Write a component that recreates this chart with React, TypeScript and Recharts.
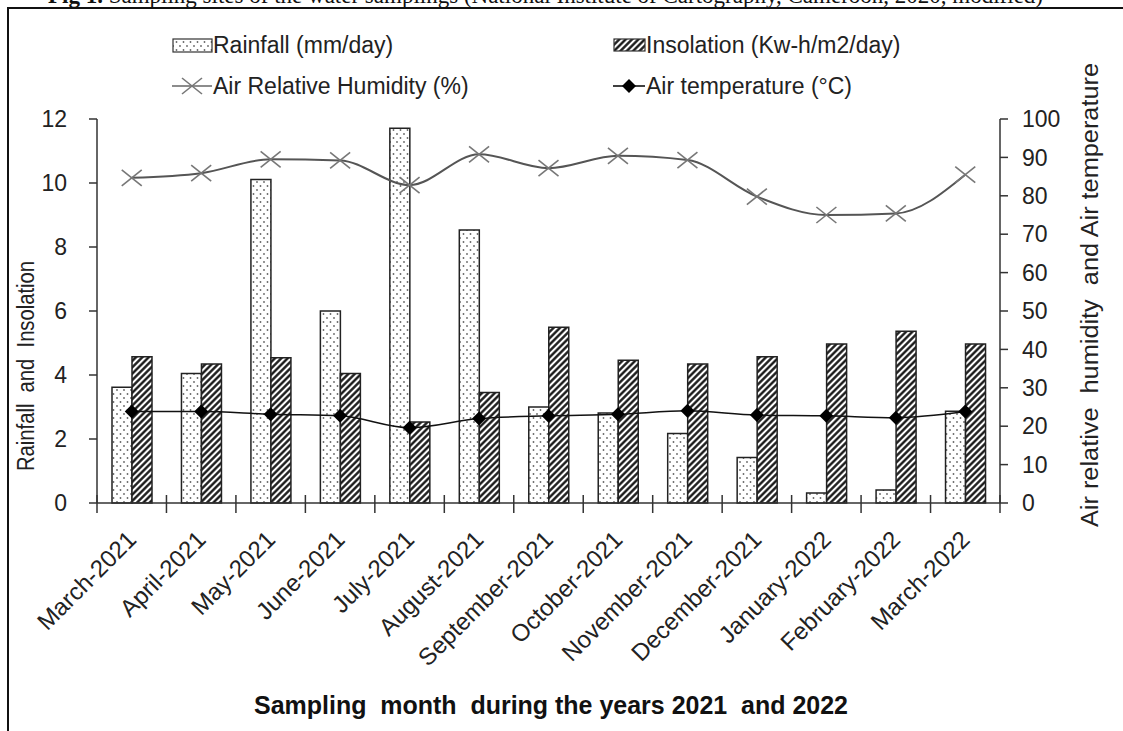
import React from 'react';
import { ComposedChart, Bar, Line, XAxis, YAxis } from 'recharts';

const months = [
  'March-2021', 'April-2021', 'May-2021', 'June-2021', 'July-2021', 'August-2021',
  'September-2021', 'October-2021', 'November-2021', 'December-2021', 'January-2022',
  'February-2022', 'March-2022',
];
const rainfall = [3.62, 4.05, 10.11, 6.0, 11.71, 8.53, 3.0, 2.81, 2.17, 1.42, 0.31, 0.41, 2.87];
const insolation = [4.57, 4.34, 4.54, 4.05, 2.53, 3.45, 5.49, 4.46, 4.34, 4.57, 4.97, 5.37, 4.97];
const humidity = [84.7, 85.9, 89.5, 89.2, 82.8, 90.8, 87.2, 90.4, 89.3, 79.8, 75.0, 75.4, 85.5];
const temperature = [23.8, 23.8, 23.1, 22.7, 19.6, 22.0, 22.7, 23.1, 24.0, 22.9, 22.7, 22.2, 23.8];
const leftTicks = [0, 2, 4, 6, 8, 10, 12];
const rightTicks = [0, 10, 20, 30, 40, 50, 60, 70, 80, 90, 100];

const data = months.map((month, i) => ({
  month,
  rainfall: rainfall[i],
  insolation: insolation[i],
  humidity: humidity[i],
  temperature: temperature[i],
}));

const W = 1123;
const H = 731;
const PLOT_LEFT = 97;
const PLOT_RIGHT = 1000;
const PLOT_TOP = 119;
const PLOT_BOTTOM = 503;
const AXIS_W = 60;
const X_AXIS_H = 120;
const BAND = (PLOT_RIGHT - PLOT_LEFT) / months.length;

const SANS = "'Liberation Sans', Arial, sans-serif";
const INK = '#222';

const MonthTick = (props: any) => {
  const { x, y, payload, index } = props;
  const half = BAND / 2;
  const ax = x + 6;
  const ay = y + 38;
  return (
    <g>
      <line x1={x - half} x2={x - half} y1={y - 8} y2={y + 10} stroke="#333" strokeWidth={1.5} />
      {index === months.length - 1 && (
        <line x1={x + half} x2={x + half} y1={y - 8} y2={y + 10} stroke="#333" strokeWidth={1.5} />
      )}
      <text
        x={ax}
        y={ay}
        transform={`rotate(-45 ${ax} ${ay})`}
        textAnchor="end"
        fontSize={24}
        fontFamily={SANS}
        fill={INK}
      >
        {payload.value}
      </text>
    </g>
  );
};

const CrossDot = (props: any) => {
  const { cx, cy, index } = props;
  if (cx == null || cy == null) return <g key={`h-${index}`} />;
  return (
    <g key={`h-${index}`}>
      <line x1={cx - 10} y1={cy - 8} x2={cx + 10} y2={cy + 8} stroke="#777" strokeWidth={1.6} />
      <line x1={cx - 10} y1={cy + 8} x2={cx + 10} y2={cy - 8} stroke="#777" strokeWidth={1.6} />
    </g>
  );
};

const DiamondDot = (props: any) => {
  const { cx, cy, index } = props;
  if (cx == null || cy == null) return <g key={`t-${index}`} />;
  const s = 7;
  return (
    <path
      key={`t-${index}`}
      d={`M${cx},${cy - s} L${cx + s},${cy} L${cx},${cy + s} L${cx - s},${cy} Z`}
      fill="#000"
    />
  );
};

const Patterns = () => (
  <defs>
    <pattern id="dots" width="7" height="8" patternUnits="userSpaceOnUse">
      <rect width="7" height="8" fill="#fff" />
      <circle cx="1.5" cy="2" r="0.9" fill="#666" />
      <circle cx="5" cy="6" r="0.9" fill="#666" />
    </pattern>
    <pattern id="hatch" width="4.5" height="4.5" patternUnits="userSpaceOnUse" patternTransform="rotate(45)">
      <rect width="4.5" height="4.5" fill="#fff" />
      <line x1="2.25" y1="0" x2="2.25" y2="4.5" stroke="#111" strokeWidth="2.3" />
    </pattern>
  </defs>
);

const legendText: React.CSSProperties = {
  position: 'absolute',
  fontFamily: SANS,
  fontSize: 23,
  color: INK,
  lineHeight: '26px',
  whiteSpace: 'nowrap',
};

const ChartLegend = () => (
  <>
    <svg style={{ position: 'absolute', left: 0, top: 0 }} width={W} height={110}>
      <Patterns />
      <rect x={173} y={39} width={39} height={13} fill="url(#dots)" stroke="#333" strokeWidth={1.2} />
      <rect x={614} y={39} width={31} height={12} fill="url(#hatch)" stroke="#333" strokeWidth={1.2} />
      <line x1={172} x2={212} y1={86} y2={86} stroke="#666" strokeWidth={1.6} />
      <line x1={182} y1={78} x2={202} y2={94} stroke="#777" strokeWidth={1.6} />
      <line x1={182} y1={94} x2={202} y2={78} stroke="#777" strokeWidth={1.6} />
      <line x1={613} x2={645} y1={86} y2={86} stroke="#000" strokeWidth={1.5} />
      <path d="M629,79 L636,86 L629,93 L622,86 Z" fill="#000" />
    </svg>
    <div style={{ ...legendText, left: 213, top: 32 }}>Rainfall (mm/day)</div>
    <div style={{ ...legendText, left: 646, top: 32 }}>Insolation (Kw-h/m2/day)</div>
    <div style={{ ...legendText, left: 213, top: 73 }}>Air Relative Humidity (%)</div>
    <div style={{ ...legendText, left: 646, top: 73 }}>Air temperature (°C)</div>
  </>
);

export default function App() {
  return (
    <div
      style={{
        position: 'absolute',
        left: 0,
        top: 0,
        width: W,
        height: H,
        overflow: 'hidden',
        background: '#fff',
      }}
    >
      <div
        style={{
          position: 'absolute',
          left: 48,
          top: -16,
          fontFamily: "'Liberation Serif', 'Times New Roman', serif",
          fontSize: 23,
          lineHeight: '24px',
          color: '#111',
          whiteSpace: 'nowrap',
        }}
      >
        <b>Fig 1.</b> Sampling sites of the water samplings (National Institute of Cartography, Cameroon, 2020, modified)
      </div>
      <div style={{ position: 'absolute', left: 7, top: 7, width: W, height: 2, background: '#111' }} />
      <div style={{ position: 'absolute', left: 7, top: 7, width: 2, height: H, background: '#111' }} />

      <div style={{ position: 'absolute', left: 0, top: 0 }}>
        <ComposedChart
          width={W}
          height={H}
          data={data}
          margin={{
            top: PLOT_TOP,
            left: PLOT_LEFT - AXIS_W,
            right: W - PLOT_RIGHT - AXIS_W,
            bottom: H - PLOT_BOTTOM - X_AXIS_H,
          }}
          barGap={0}
          barSize={20}
        >
          <Patterns />
          <XAxis
            dataKey="month"
            interval={0}
            height={X_AXIS_H}
            tickLine={false}
            tickSize={0}
            tickMargin={0}
            axisLine={{ stroke: '#333', strokeWidth: 1.5 }}
            tick={<MonthTick />}
          />
          <YAxis
            yAxisId="left"
            orientation="left"
            width={AXIS_W}
            domain={[0, 12]}
            ticks={leftTicks}
            interval={0}
            tickSize={8}
            tickMargin={22}
            axisLine={{ stroke: '#333', strokeWidth: 1.5 }}
            tickLine={{ stroke: '#333', strokeWidth: 1.5 }}
            tick={{ fontSize: 23, fontFamily: SANS, fill: INK }}
          />
          <YAxis
            yAxisId="right"
            orientation="right"
            width={AXIS_W}
            domain={[0, 100]}
            ticks={rightTicks}
            interval={0}
            tickSize={8}
            tickMargin={14}
            axisLine={{ stroke: '#333', strokeWidth: 1.5 }}
            tickLine={{ stroke: '#333', strokeWidth: 1.5 }}
            tick={{ fontSize: 23, fontFamily: SANS, fill: INK }}
          />
          <Bar
            yAxisId="left"
            dataKey="rainfall"
            name="Rainfall (mm/day)"
            fill="url(#dots)"
            stroke="#222"
            strokeWidth={1.5}
            isAnimationActive={false}
          />
          <Bar
            yAxisId="left"
            dataKey="insolation"
            name="Insolation (Kw-h/m2/day)"
            fill="url(#hatch)"
            stroke="#222"
            strokeWidth={1.5}
            isAnimationActive={false}
          />
          <Line
            yAxisId="right"
            type="monotone"
            dataKey="humidity"
            name="Air Relative Humidity (%)"
            stroke="#555"
            strokeWidth={2}
            dot={CrossDot}
            activeDot={false}
            isAnimationActive={false}
          />
          <Line
            yAxisId="right"
            type="monotone"
            dataKey="temperature"
            name="Air temperature (°C)"
            stroke="#111"
            strokeWidth={1.5}
            dot={DiamondDot}
            activeDot={false}
            isAnimationActive={false}
          />
          <text
            x={26}
            y={366}
            transform="rotate(-90 26 366)"
            textAnchor="middle"
            dominantBaseline="central"
            fontSize={23}
            fontFamily={SANS}
            fill={INK}
            textLength={210}
            lengthAdjust="spacingAndGlyphs"
            style={{ whiteSpace: 'pre' }}
          >
            {'Rainfall  and  Insolation'}
          </text>
          <text
            x={1090}
            y={295}
            transform="rotate(-90 1090 295)"
            textAnchor="middle"
            dominantBaseline="central"
            fontSize={23}
            fontFamily={SANS}
            fill={INK}
            textLength={464}
            lengthAdjust="spacingAndGlyphs"
            style={{ whiteSpace: 'pre' }}
          >
            {'Air relative  humidity  and Air temperature'}
          </text>
          <text
            x={551}
            y={714}
            textAnchor="middle"
            fontSize={25}
            fontWeight="bold"
            fontFamily={SANS}
            fill="#111"
            textLength={594}
            lengthAdjust="spacingAndGlyphs"
            style={{ whiteSpace: 'pre' }}
          >
            {'Sampling  month  during the years 2021  and 2022'}
          </text>
        </ComposedChart>
      </div>
      <ChartLegend />
    </div>
  );
}
